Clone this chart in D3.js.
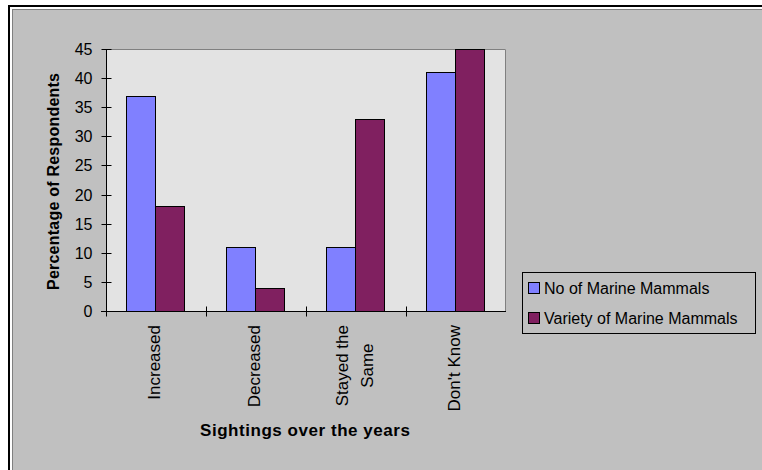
<!DOCTYPE html>
<html>
<head>
<meta charset="utf-8">
<script src="https://cdn.jsdelivr.net/npm/d3@7"></script>
<style>
  html, body { margin: 0; padding: 0; background: #c0c0c0; overflow: hidden; }
  svg { display: block; font-family: "Liberation Sans", Arial, sans-serif; }
</style>
</head>
<body>
<svg id="chart" width="762" height="470"></svg>
<script>
// Survey responses: how marine mammal sightings changed over the years
const categories = ["Increased", "Decreased", "Stayed the Same", "Don't Know"];
const categoryLines = [["Increased"], ["Decreased"], ["Stayed the", "Same"], ["Don't Know"]];
const seriesNames = ["No of Marine Mammals", "Variety of Marine Mammals"];
const numberValues = [37, 11, 11, 41];
const varietyValues = [18, 4, 33, 45];
const yTicks = [0, 5, 10, 15, 20, 25, 30, 35, 40, 45];
const seriesColors = ["#8080ff", "#802060"];

const svg = d3.select("#chart");

// chart frame: black outer rule, white gap, grey inner rule
svg.append("rect").attr("x", 0).attr("y", 0).attr("width", 762).attr("height", 470).attr("fill", "#ffffff");
svg.append("rect").attr("x", 8).attr("y", 5).attr("width", 780).attr("height", 500).attr("fill", "#000000");
svg.append("rect").attr("x", 10).attr("y", 7).attr("width", 780).attr("height", 500).attr("fill", "#ffffff");
svg.append("rect").attr("x", 12).attr("y", 9).attr("width", 780).attr("height", 500).attr("fill", "#808080");
svg.append("rect").attr("x", 13).attr("y", 10).attr("width", 780).attr("height", 500).attr("fill", "#c0c0c0");

const plot = { left: 106, top: 49, right: 506, bottom: 311 };

const x = d3.scaleBand().domain(categories).range([plot.left, plot.right]).paddingInner(0).paddingOuter(0);
const gap = x.bandwidth() * 0.75 / 3.5;
const xs = d3.scaleBand().domain(seriesNames).range([gap, x.bandwidth() - gap]);
const y = d3.scaleLinear().domain([0, 45]).range([plot.bottom, plot.top]);

// plot area
svg.append("rect")
  .attr("x", plot.left).attr("y", plot.top)
  .attr("width", plot.right - plot.left).attr("height", plot.bottom - plot.top)
  .attr("fill", "#e3e3e3");
svg.append("path")
  .attr("d", `M${plot.left},${plot.top + 0.5}H${plot.right - 0.5}V${plot.bottom}`)
  .attr("fill", "none").attr("stroke", "#808080").attr("stroke-width", 1);

// bars
const rows = categories.map((c, i) => ({ cat: c, values: [numberValues[i], varietyValues[i]] }));
const groups = svg.append("g").selectAll("g").data(rows).join("g")
  .attr("transform", d => `translate(${x(d.cat)},0)`);
groups.selectAll("rect")
  .data(d => d.values.map((v, j) => ({ name: seriesNames[j], value: v, color: seriesColors[j] })))
  .join("rect")
  .attr("x", d => Math.round(xs(d.name)) - 0.5)
  .attr("y", d => Math.round(y(d.value)) + 0.5)
  .attr("width", d => Math.round(xs.bandwidth()))
  .attr("height", d => Math.round(y(0)) - Math.round(y(d.value)))
  .attr("fill", d => d.color)
  .attr("stroke", "#000000")
  .attr("stroke-width", 1);

// y axis
const yAxis = d3.axisLeft(y).tickValues(yTicks).tickSize(0).tickPadding(14);
const yg = svg.append("g").attr("transform", `translate(${plot.left + 0.5},0)`).call(yAxis);
yg.select(".domain").attr("stroke", "#000000").attr("d", `M0,${plot.top}V${plot.bottom + 5}`);
yg.selectAll(".tick text").attr("font-size", 16).attr("fill", "#000000")
  .attr("font-family", "Liberation Sans, Arial, sans-serif").attr("dy", "0.36em");
yg.selectAll(".tick").append("line")
  .attr("x1", -5).attr("x2", 5).attr("stroke", "#000000");
yg.selectAll(".tick").attr("transform", d => `translate(0,${Math.round(y(d)) + 0.5})`);

// x axis with ticks between categories
const xg = svg.append("g").attr("transform", `translate(0,${plot.bottom + 0.5})`);
xg.append("line").attr("x1", plot.left - 5).attr("x2", plot.right).attr("stroke", "#000000");
const boundaries = categories.map(c => x(c));
xg.selectAll("line.tk").data(boundaries).join("line").attr("class", "tk")
  .attr("x1", d => Math.round(d) + 0.5).attr("x2", d => Math.round(d) + 0.5)
  .attr("y1", -5).attr("y2", 5).attr("stroke", "#000000");

// rotated category labels, right end aligned just below the axis
const labelTop = 325;
categories.forEach((c, i) => {
  const lines = categoryLines[i];
  const g = svg.append("g")
    .attr("transform", `translate(${x(c) + x.bandwidth() / 2 - 1.5},${labelTop}) rotate(-90)`);
  const texts = lines.map((ln, k) => g.append("text")
    .attr("font-size", 17)
    .attr("fill", "#000000")
    .attr("dominant-baseline", "central")
    .attr("y", (k - (lines.length - 1) / 2) * 25)
    .text(ln));
  const maxLen = d3.max(texts, t => t.node().getComputedTextLength());
  texts.forEach(t => t.attr("text-anchor", "middle").attr("x", -maxLen / 2));
});

// axis titles
svg.append("text")
  .attr("transform", `translate(59,181.5) rotate(-90)`)
  .attr("text-anchor", "middle")
  .attr("font-size", 16).attr("font-weight", "bold")
  .attr("textLength", 217).attr("lengthAdjust", "spacing")
  .text("Percentage of Respondents");
svg.append("text")
  .attr("x", 305).attr("y", 436)
  .attr("text-anchor", "middle")
  .attr("font-size", 17).attr("font-weight", "bold")
  .attr("textLength", 210).attr("lengthAdjust", "spacing")
  .text("Sightings over the years");

// legend
const legend = svg.append("g");
legend.append("rect")
  .attr("x", 522.5).attr("y", 272.5).attr("width", 233).attr("height", 61)
  .attr("fill", "#c0c0c0").attr("stroke", "#000000");
seriesNames.forEach((name, j) => {
  const cy = 288 + j * 30;
  legend.append("rect")
    .attr("x", 528.5).attr("y", cy - 5.5).attr("width", 11).attr("height", 11)
    .attr("fill", seriesColors[j]).attr("stroke", "#000000");
  legend.append("text")
    .attr("x", 544).attr("y", cy).attr("dy", "0.36em")
    .attr("font-size", 16)
    .text(name);
});
</script>
</body>
</html>
